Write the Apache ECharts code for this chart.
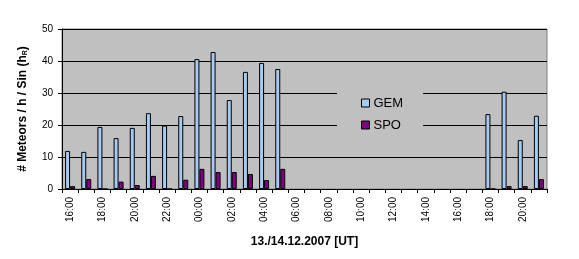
<!DOCTYPE html>
<html>
<head>
<meta charset="utf-8">
<script src="https://cdn.jsdelivr.net/npm/echarts@6/dist/echarts.min.js"></script>
<style>html,body{margin:0;padding:0;background:#fff;}#c{width:579px;height:259px;}</style>
</head>
<body>
<div id="c"></div>
<script>
var categories = ["16:00","17:00","18:00","19:00","20:00","21:00","22:00","23:00",
  "00:00","01:00","02:00","03:00","04:00","05:00","06:00","07:00","08:00","09:00",
  "10:00","11:00","12:00","13:00","14:00","15:00","16:00","17:00","18:00","19:00","20:00","21:00"];
var gem = [11.9, 11.6, 19.4, 15.9, 19.1, 23.7, 19.8, 22.8,
  40.6, 42.8, 27.8, 36.6, 39.4, 37.5, null, null, null, null,
  null, null, null, null, null, null, null, null, 23.4, 30.4, 15.3, 22.9];
var spo = [0.9, 3.1, 0, 2.3, 1.25, 4.1, 0, 2.9,
  6.3, 5.3, 5.3, 4.7, 2.8, 6.3, null, null, null, null,
  null, null, null, null, null, null, null, null, 0, 0.9, 0.9, 3.1];
var yTicks = [0, 10, 20, 30, 40, 50];

var chart = echarts.init(document.getElementById('c'), null, {renderer: 'canvas'});
var font = 'Arial, "Liberation Sans", sans-serif';
chart.setOption({
  animation: false,
  backgroundColor: '#ffffff',
  textStyle: {fontFamily: font},
  grid: {left: 62, right: 32, top: 29, bottom: 70, show: true, backgroundColor: '#C0C0C0', borderColor: '#808080', borderWidth: 1},
  legend: {
    orient: 'vertical', left: 337, top: 80,
    padding: [16, 20, 8, 24],
    backgroundColor: '#C0C0C0',
    itemWidth: 8, itemHeight: 8, itemGap: 8,
    icon: 'rect',
    itemStyle: {borderColor: '#000', borderWidth: 1},
    textStyle: {fontFamily: font, fontSize: 13, color: '#000', lineHeight: 14, padding: [0,0,0,-1]},
    data: ['GEM', 'SPO']
  },
  xAxis: {
    type: 'category', data: categories,
    boundaryGap: true,
    axisLine: {lineStyle: {color: '#000', width: 1}},
    axisTick: {show: true, interval: 0, length: 4, lineStyle: {color: '#000'}},
    axisLabel: {interval: 1, rotate: 90, margin: 8, fontSize: 10, color: '#000', fontFamily: font},
    name: '13./14.12.2007 [UT]', nameLocation: 'middle', nameGap: 47,
    nameTextStyle: {fontWeight: 'bold', fontSize: 12, color: '#000', fontFamily: font}
  },
  yAxis: {
    type: 'value', min: yTicks[0], max: yTicks[yTicks.length - 1], interval: 10,
    axisLine: {show: true, lineStyle: {color: '#000', width: 1}},
    axisTick: {show: true, length: 4, lineStyle: {color: '#000'}},
    axisLabel: {margin: 9, fontSize: 10, color: '#000', fontFamily: font},
    splitLine: {show: true, lineStyle: {color: '#000', width: 1}},
    name: '# Meteors / h / Sin (h{sub|R})', nameLocation: 'middle', nameGap: 33,
    nameTextStyle: {fontWeight: 'bold', fontSize: 12, color: '#000', fontFamily: font,
      rich: {sub: {fontSize: 7, fontWeight: 'bold', fontFamily: font, color: '#000', verticalAlign: 'bottom', padding: [4,0,0,0]}}}
  },
  series: [
    {name: 'GEM', type: 'bar', data: gem, barWidth: 5, barGap: '0%',
      itemStyle: {color: '#A6CAF0', borderColor: '#000', borderWidth: 1}},
    {name: 'SPO', type: 'bar', data: spo, barWidth: 5, barGap: '0%',
      itemStyle: {color: '#800080', borderColor: '#000', borderWidth: 1}}
  ]
});
</script>
</body>
</html>
